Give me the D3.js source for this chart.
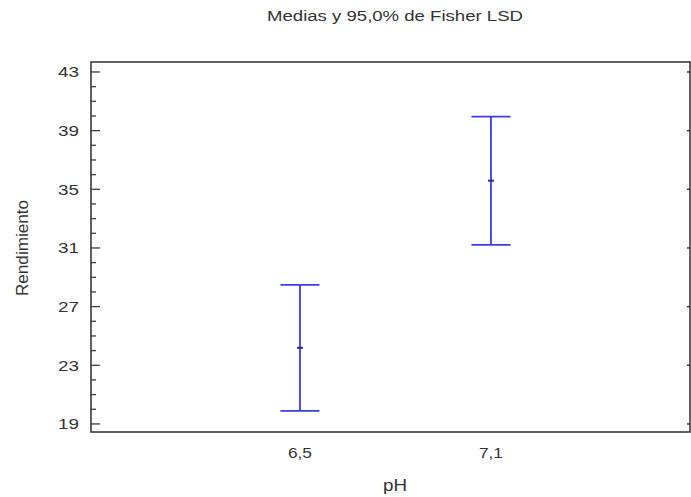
<!DOCTYPE html>
<html>
<head>
<meta charset="utf-8">
<script src="https://cdn.jsdelivr.net/npm/d3@7"></script>
<style>
  body { margin: 0; background: #fff; }
  text { font-family: "Liberation Sans", Arial, sans-serif; fill: #333; }
</style>
</head>
<body>
<div id="chart"></div>
<script>
// values
const levels = ["6,5", "7,1"];
const means  = [24.19, 35.59];
const lower  = [19.89, 31.21];
const upper  = [28.48, 39.95];
const yMajorTicks = [19, 23, 27, 31, 35, 39, 43];

const dims = { width: 691, height: 497, left: 91, right: 690, top: 62, bottom: 432 };

const svg = d3.select("#chart")
  .append("svg")
    .attr("width", dims.width)
    .attr("height", dims.height);

const xScale = d3.scaleLinear()
  .domain([-1.094, 2.042])
  .range([dims.left, dims.right]);
const yScale = d3.scaleLinear()
  .domain([18.45, 43.68])
  .range([dims.bottom, dims.top]);

// frame
svg.append("rect")
  .attr("x", dims.left)
  .attr("y", dims.top)
  .attr("width", dims.right - dims.left)
  .attr("height", dims.bottom - dims.top)
  .attr("fill", "none")
  .attr("stroke", "#3a3a3a")
  .attr("stroke-width", 1.6);

// left axis: major labelled ticks, minor every unit
const minorTicks = d3.range(19, 44);
svg.append("g")
  .selectAll("line")
  .data(minorTicks)
  .join("line")
    .attr("x1", dims.left)
    .attr("x2", d => dims.left + (yMajorTicks.includes(d) ? 9 : 5))
    .attr("y1", d => yScale(d))
    .attr("y2", d => yScale(d))
    .attr("stroke", "#3a3a3a")
    .attr("stroke-width", 1.3);

svg.append("g")
  .selectAll("text")
  .data(yMajorTicks)
  .join("text")
    .attr("x", dims.left - 12)
    .attr("y", d => yScale(d))
    .attr("dy", "0.36em")
    .attr("text-anchor", "end")
    .attr("font-size", 15)
    .attr("textLength", 21)
    .attr("lengthAdjust", "spacingAndGlyphs")
    .text(d => d);

// right side: short inward major ticks
svg.append("g")
  .selectAll("line")
  .data(yMajorTicks)
  .join("line")
    .attr("x1", dims.right - 3)
    .attr("x2", dims.right)
    .attr("y1", d => yScale(d))
    .attr("y2", d => yScale(d))
    .attr("stroke", "#3a3a3a")
    .attr("stroke-width", 1.5);

// x labels
svg.append("g")
  .selectAll("text")
  .data(levels)
  .join("text")
    .attr("x", (d, i) => xScale(i))
    .attr("y", dims.bottom + 26)
    .attr("text-anchor", "middle")
    .attr("font-size", 15)
    .attr("textLength", 24)
    .attr("lengthAdjust", "spacingAndGlyphs")
    .text(d => d);

// interval bars
const bars = svg.append("g")
  .selectAll("g")
  .data(levels.map((d, i) => ({ level: d, i: i, mean: means[i], lo: lower[i], hi: upper[i] })))
  .join("g")
    .attr("stroke", "#3b3be6")
    .attr("stroke-width", 1.8);

bars.append("line")
  .attr("x1", d => xScale(d.i))
  .attr("x2", d => xScale(d.i))
  .attr("y1", d => yScale(d.lo))
  .attr("y2", d => yScale(d.hi));
bars.append("line")
  .attr("x1", d => xScale(d.i) - 19.5)
  .attr("x2", d => xScale(d.i) + 19.5)
  .attr("y1", d => yScale(d.hi))
  .attr("y2", d => yScale(d.hi));
bars.append("line")
  .attr("x1", d => xScale(d.i) - 19.5)
  .attr("x2", d => xScale(d.i) + 19.5)
  .attr("y1", d => yScale(d.lo))
  .attr("y2", d => yScale(d.lo));
bars.append("line")
  .attr("x1", d => xScale(d.i) - 3)
  .attr("x2", d => xScale(d.i) + 3)
  .attr("y1", d => yScale(d.mean))
  .attr("y2", d => yScale(d.mean))
  .attr("stroke", "#2a2a9a")
  .attr("stroke-width", 2);

// titles
svg.append("text")
  .attr("x", 395)
  .attr("y", 21)
  .attr("text-anchor", "middle")
  .attr("font-size", 15.5)
  .attr("textLength", 256)
  .attr("lengthAdjust", "spacingAndGlyphs")
  .text("Medias y 95,0% de Fisher LSD");

svg.append("text")
  .attr("x", 395)
  .attr("y", 491)
  .attr("text-anchor", "middle")
  .attr("font-size", 16)
  .attr("textLength", 24)
  .attr("lengthAdjust", "spacingAndGlyphs")
  .text("pH");

svg.append("text")
  .attr("transform", `translate(28,248) rotate(-90)`)
  .attr("text-anchor", "middle")
  .attr("font-size", 16)
  .attr("textLength", 96)
  .attr("lengthAdjust", "spacingAndGlyphs")
  .text("Rendimiento");
</script>
</body>
</html>
